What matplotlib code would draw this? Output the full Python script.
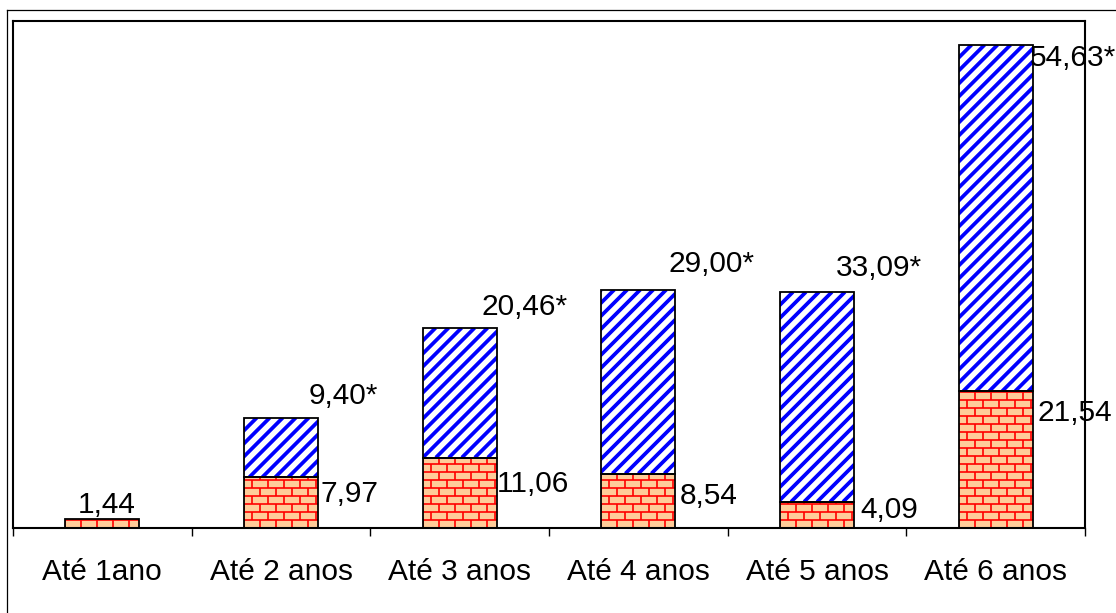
import matplotlib.pyplot as plt
import numpy as np
from matplotlib.collections import LineCollection
from matplotlib.lines import Line2D

plt.rcParams['font.family'] = ['Liberation Sans', 'DejaVu Sans']

# Dados
categorias = ["Até 1ano", "Até 2 anos", "Até 3 anos", "Até 4 anos", "Até 5 anos", "Até 6 anos"]
base = [1.44, 7.97, 11.06, 8.54, 4.09, 21.54]
acrescimo = [np.nan, 9.40, 20.46, 29.00, 33.09, 54.63]
rotulos_base = ["1,44", "7,97", "11,06", "8,54", "4,09", "21,54"]
rotulos_acrescimo = ["", "9,40*", "20,46*", "29,00*", "33,09*", "54,63*"]

# deslocamento dos rótulos (pixels) em relação ao centro da barra / topo do segmento
desloc_base = [(4, 6), (69, -25), (73, -34), (70, -30), (72, -16), (79, -30)]
desloc_acrescimo = [(0, 0), (62, 14), (65, 13), (73, 18), (62, 16), (77, -21)]

W, H, DPI = 1116, 613, 100
fig = plt.figure(figsize=(W / DPI, H / DPI), dpi=DPI)
left, right, top, bottom = 13, 1085, 20.5, 527.7
ax = fig.add_axes([left / W, 1 - bottom / H, (right - left) / W, (bottom - top) / H])
ax.set_xlim(-0.5, 5.5)
ax.set_ylim(0, 80)

# pixels por unidade de dado
sx = (right - left) / 6
sy = (bottom - top) / 80

x = np.arange(len(categorias))
largura = 0.415
base = np.array(base)
acrescimo = np.array(acrescimo)

barras_base = ax.bar(x, base, largura, color='#FFCC99', edgecolor='none', zorder=2)
barras_acr = ax.bar(x, acrescimo, largura, bottom=base, color='white', edgecolor='none', zorder=2)


def tijolos(patch):
    x0, y0 = patch.get_x(), patch.get_y()
    w, h = patch.get_width(), patch.get_height()
    wpx, hpx = w * sx, h * sy
    segs = []
    for k, yy in enumerate(np.arange(0, hpx, 8)):
        segs.append([(x0, y0 + yy / sy), (x0 + w, y0 + yy / sy)])
        for xx in np.arange(-16 + (k % 2) * 8, wpx, 16):
            segs.append([(x0 + xx / sx, y0 + yy / sy), (x0 + xx / sx, y0 + (yy + 8) / sy)])
    lc = LineCollection(segs, colors='#FF0000', linewidths=1.2, zorder=2.5)
    ax.add_collection(lc)
    lc.set_clip_path(patch)


def listras(patch):
    x0, y0 = patch.get_x(), patch.get_y()
    w, h = patch.get_width(), patch.get_height()
    wpx, hpx = w * sx, h * sy
    segs = []
    for t in np.arange(-hpx - 13, wpx + 13, 13):
        segs.append([(x0 + t / sx, y0), (x0 + (t + hpx) / sx, y0 + h)])
    lc = LineCollection(segs, colors='#0000FF', linewidths=2.7, zorder=2.5)
    ax.add_collection(lc)
    lc.set_clip_path(patch)


for p in barras_base:
    tijolos(p)
for p in barras_acr:
    if np.isfinite(p.get_height()):
        listras(p)

# contornos
ax.bar(x, base, largura, fill=False, edgecolor='black', linewidth=1.3, zorder=3)
ax.bar(x, acrescimo, largura, bottom=base, fill=False, edgecolor='black', linewidth=1.3, zorder=3)

# rótulos de valores
for i in range(len(x)):
    dx, dy = desloc_base[i]
    ax.annotate(rotulos_base[i], (x[i], base[i]), xytext=(dx, dy), textcoords='offset pixels',
                ha='center', va='baseline', fontsize=21.5, zorder=4)
    if rotulos_acrescimo[i]:
        dx, dy = desloc_acrescimo[i]
        ax.annotate(rotulos_acrescimo[i], (x[i], base[i] + acrescimo[i]), xytext=(dx, dy),
                    textcoords='offset pixels', ha='center', va='baseline', fontsize=21.5, zorder=4,
                    annotation_clip=False)

# eixos
ax.set_xticks(x)
ax.set_xticklabels(categorias, fontsize=21.5)
ax.set_xticks(np.arange(-0.5, 6, 1), minor=True)
ax.tick_params(axis='x', which='major', length=0, pad=22)
ax.tick_params(axis='x', which='minor', length=6, width=1, direction='out', color='black')
ax.set_yticks([])
for s in ax.spines.values():
    s.set_color('black')
    s.set_linewidth(1.5)

# moldura externa
fig.add_artist(Line2D([7 / W, 7 / W], [0, 1 - 10 / H], transform=fig.transFigure, color='black', lw=0.9))
fig.add_artist(Line2D([7 / W, 1], [1 - 10 / H, 1 - 10 / H], transform=fig.transFigure, color='black', lw=0.9))

fig.savefig('out.png', dpi=DPI)
